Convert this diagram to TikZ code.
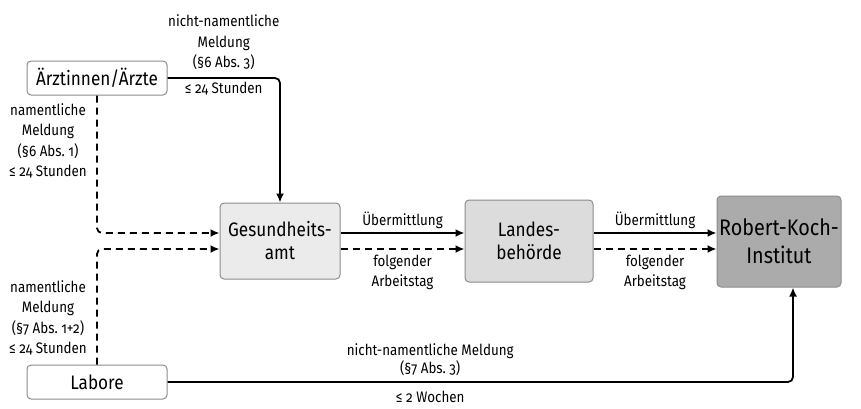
\documentclass[tikz,border=0pt]{standalone}
\usepackage{fontspec}
\setmainfont{Fira Sans}[Numbers=OldStyle,FakeStretch=0.88]
\usetikzlibrary{arrows.meta}
\definecolor{boxline}{HTML}{8C8C8C}
\definecolor{fillga}{HTML}{EBEBEB}
\definecolor{fillland}{HTML}{DCDCDC}
\definecolor{fillrki}{HTML}{ABABAB}

\begin{document}
\begin{tikzpicture}[x=1pt,y=-1pt,
    box/.style={draw=boxline,line width=1pt,rounded corners=4pt,align=center,font=\fontsize{19.5}{23}\selectfont,inner sep=0pt},
    lbl/.style={align=center,font=\fontsize{15.2}{20.5}\selectfont,inner sep=1pt},
    arr/.style={draw,line width=1.8pt,-{Latex[length=9pt,width=8pt]},rounded corners=5pt},
    dsh/.style={dash pattern=on 7pt off 5pt}]
    \useasboundingbox (0,0) rectangle (861,408);

    \node[box,fill=white,minimum width=140pt,minimum height=34pt] (aerzte) at (97,78) {Ärztinnen/Ärzte};
    \node[box,fill=white,minimum width=140pt,minimum height=34pt] (labore) at (97,382) {Labore};
    \node[box,fill=fillga,minimum width=120pt,minimum height=76pt] (ga) at (280,241) {Gesundheits-\\amt};
    \node[box,fill=fillland,minimum width=128pt,minimum height=82pt] (land) at (529,241) {Landes-\\behörde};
    \node[box,fill=fillrki,minimum width=124pt,minimum height=91pt,font=\fontsize{22.5}{28}\selectfont] (rki) at (779,241.5) {Robert-Koch-\\Institut};

    \node[lbl] (nam6) at (48,141) {namentliche\\Meldung\\(§6 Abs.~1)\\≤ 24 Stunden};
    \node[lbl] (nam7) at (48,318) {namentliche\\Meldung\\(§7 Abs.~1+2)\\≤ 24 Stunden};

    \draw[arr] (aerzte.east) -| node[lbl,pos=0.25,above=6pt] {nicht-namentliche\\Meldung\\(§6 Abs.~3)} node[lbl,pos=0.25,below=2pt] {≤ 24 Stunden} (ga.north);
    \draw[arr,dsh] (aerzte.south) |- ([yshift=8pt]ga.west);
    \draw[arr,dsh] (labore.north) |- ([yshift=-8pt]ga.west);

    \draw[arr] ([yshift=8pt]ga.east) -- node[lbl,above=2pt] {Übermittlung} ([yshift=8pt]ga.east -| land.west);
    \draw[arr,dsh] ([yshift=-8pt]ga.east) -- node[lbl,below=4pt] {folgender\\Arbeitstag} ([yshift=-8pt]ga.east -| land.west);
    \draw[arr] ([yshift=8pt]land.east) -- node[lbl,above=2pt] {Übermittlung} ([yshift=8pt]land.east -| rki.west);
    \draw[arr,dsh] ([yshift=-8pt]land.east) -- node[lbl,below=4pt] {folgender\\Arbeitstag} ([yshift=-8pt]land.east -| rki.west);

    \draw[arr] (labore.east) -| node[lbl,pos=0.21,above=4pt,font=\fontsize{15.2}{18.5}\selectfont] {nicht-namentliche Meldung\\(§7 Abs.~3)} node[lbl,pos=0.21,below=7pt] {≤ 2 Wochen} ([xshift=14pt]rki.south);
\end{tikzpicture}
\end{document}
